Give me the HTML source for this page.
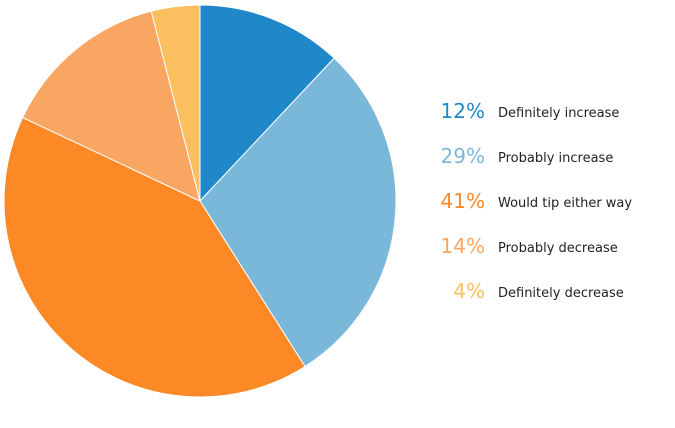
<!DOCTYPE html>
<html><head><meta charset="utf-8"><style>
body{margin:0;background:#fff;width:675px;height:424px;overflow:hidden;font-family:"DejaVu Sans","Liberation Sans",sans-serif}
</style></head><body>
<svg id="chart" width="675" height="424" viewBox="0 0 675 424"></svg>
<script>
const categories=["Definitely increase","Probably increase","Would tip either way","Probably decrease","Definitely decrease"];
const values=[12,29,41,14,4];
const colors=["#1f88c9","#7ab8da","#fd8826","#f9a662","#fbbf5f"];
const svg=document.getElementById('chart');
const NS="http://www.w3.org/2000/svg";
const cx=200,cy=201,r=196;
const total=values.reduce((a,b)=>a+b,0);
function pt(a){return [cx+r*Math.sin(a),cy-r*Math.cos(a)];}
let acc=0;
values.forEach((v,i)=>{
  const a0=acc/total*2*Math.PI; acc+=v; const a1=acc/total*2*Math.PI;
  const p0=pt(a0),p1=pt(a1);
  const large=(a1-a0)>Math.PI?1:0;
  const path=document.createElementNS(NS,'path');
  path.setAttribute('d',`M${cx},${cy}L${p0[0]},${p0[1]}A${r},${r} 0 ${large} 1 ${p1[0]},${p1[1]}Z`);
  path.setAttribute('fill',colors[i]);
  path.setAttribute('stroke','#fff');
  path.setAttribute('stroke-width','1');
  
  
  svg.appendChild(path);
  const y=118+i*45;
  const t=document.createElementNS(NS,'text');
  t.setAttribute('x',485);t.setAttribute('y',y);t.setAttribute('text-anchor','end');
  t.setAttribute('font-size','20');t.setAttribute('fill',colors[i]);
  t.textContent=v+'%';
  
  
  svg.appendChild(t);
  const l=document.createElementNS(NS,'text');
  l.setAttribute('x',498);l.setAttribute('y',y-1);
  l.setAttribute('font-size','13');l.setAttribute('fill','#222');
  l.textContent=categories[i];
  
  
  svg.appendChild(l);
});
</script>
</body></html>
